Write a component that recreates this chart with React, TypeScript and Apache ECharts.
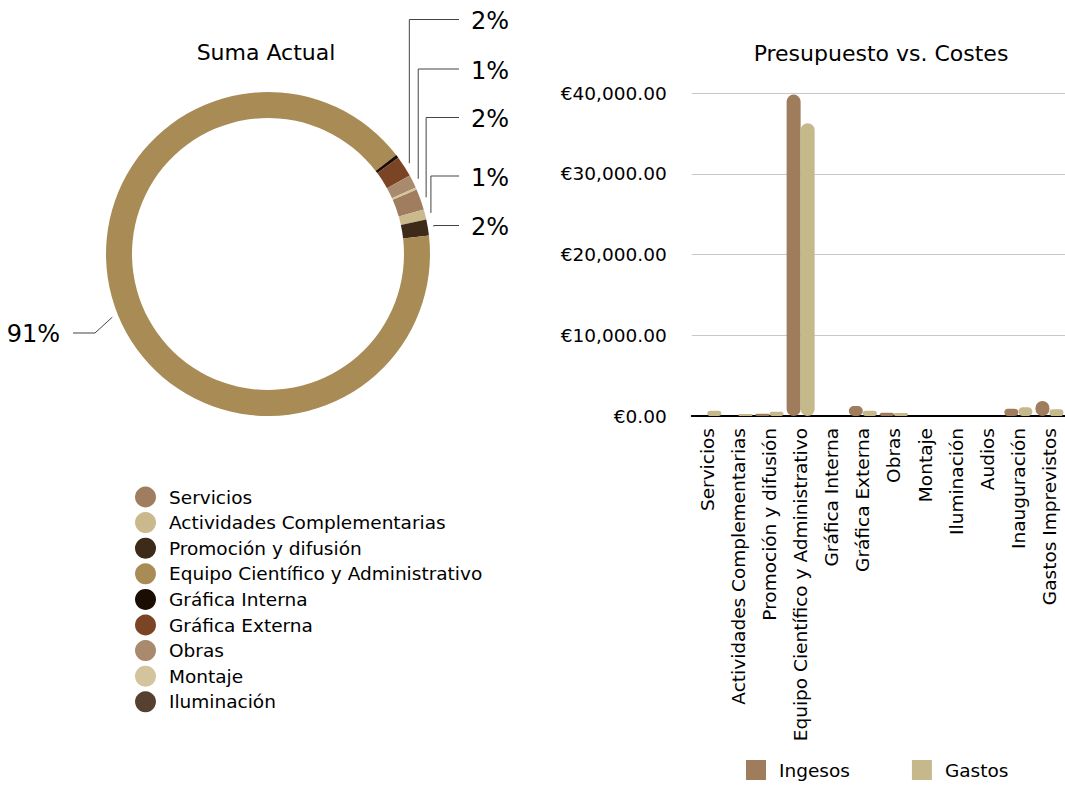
import React, { useEffect, useRef } from 'react';
import * as echarts from 'echarts';

// ---------- Data ----------
const pieCategories = [
  'Servicios',
  'Actividades Complementarias',
  'Promoción y difusión',
  'Equipo Científico y Administrativo',
  'Gráfica Interna',
  'Gráfica Externa',
  'Obras',
  'Montaje',
  'Iluminación',
];
const pieValues = [830, 400, 640, 36200, 130, 830, 520, 80, 0];
const pieColors = [
  '#a07d5f',
  '#c9b98d',
  '#3e2a19',
  '#a98b55',
  '#1c0d03',
  '#7b4525',
  '#a98a6d',
  '#d3c49d',
  '#56402f',
];

const barCategories = [
  'Servicios',
  'Actividades Complementarias',
  'Promoción y difusión',
  'Equipo Científico y Administrativo',
  'Gráfica Interna',
  'Gráfica Externa',
  'Obras',
  'Montaje',
  'Iluminación',
  'Audios',
  'Inauguración',
  'Gastos Imprevistos',
];
const ingesosValues = [0, 0, 290, 39800, 0, 1240, 410, 0, 0, 0, 900, 1860];
const gastosValues = [660, 250, 530, 36250, 0, 660, 370, 0, 0, 0, 1080, 830];
const barSeriesNames = ['Ingesos', 'Gastos'];
const barColors = ['#9f7c5c', '#c5b88b'];

const FONT = 'DejaVu Sans, Verdana, sans-serif';

export default function App() {
  const ref = useRef<HTMLDivElement>(null);

  useEffect(() => {
    if (!ref.current) return;
    const chart = echarts.init(ref.current, undefined, { renderer: 'svg' });

    const PIE_CX = 268;
    const PIE_CY = 254;
    // label placement (layout only)
    const rightLabelY: Record<string, number> = {
      'Gráfica Externa': 19.5,
      Obras: 69,
      Servicios: 117.5,
      'Actividades Complementarias': 176,
      'Promoción y difusión': 225.5,
    };

    const option: any = {
      animation: false,
      textStyle: { fontFamily: FONT },
      title: [
        {
          text: 'Suma Actual',
          left: 266,
          top: 52,
          padding: 0,
          textAlign: 'center',
          textVerticalAlign: 'middle',
          textStyle: { fontSize: 22, fontWeight: 'normal', color: '#000', fontFamily: FONT },
        },
        {
          text: 'Presupuesto vs. Costes',
          left: 881,
          top: 53,
          padding: 0,
          textAlign: 'center',
          textVerticalAlign: 'middle',
          textStyle: { fontSize: 22, fontWeight: 'normal', color: '#000', fontFamily: FONT },
        },
      ],
      legend: [
        {
          data: pieCategories,
          orient: 'vertical',
          left: 135,
          top: 486.5,
          padding: 0,
          icon: 'circle',
          itemWidth: 21,
          itemHeight: 21,
          itemGap: 4.6,
          selectedMode: false,
          textStyle: { fontSize: 18.5, color: '#000', fontFamily: FONT, padding: [0, 0, 0, 8] },
        },
        {
          data: barSeriesNames,
          orient: 'horizontal',
          left: 746,
          top: 760,
          padding: 0,
          icon: 'rect',
          itemWidth: 20,
          itemHeight: 20,
          itemGap: 62,
          selectedMode: false,
          textStyle: { fontSize: 18.5, color: '#000', fontFamily: FONT, padding: [0, 0, 0, 8] },
        },
      ],
      grid: {
        left: 691.75,
        top: 93,
        width: 382,
        height: 323,
        containLabel: false,
      },
      xAxis: {
        type: 'category',
        data: barCategories,
        axisLine: { show: true, lineStyle: { color: '#000', width: 2 } },
        axisTick: { show: false },
        axisLabel: {
          interval: 0,
          rotate: 90,
          margin: 12,
          fontSize: 18.5,
          color: '#000',
          fontFamily: FONT,
        },
      },
      yAxis: {
        type: 'value',
        min: 0,
        max: 40000,
        interval: 10000,
        axisLine: { show: false },
        axisTick: { show: false },
        splitLine: { show: true, lineStyle: { color: '#c8c8c8', width: 1 } },
        axisLabel: {
          margin: 25,
          fontSize: 18.5,
          color: '#000',
          fontFamily: FONT,
          formatter: (v: number) =>
            '€' + v.toLocaleString('en-US', { minimumFractionDigits: 2, maximumFractionDigits: 2 }),
        },
      },
      series: [
        {
          type: 'pie',
          name: 'Suma Actual',
          center: [PIE_CX, PIE_CY],
          radius: [136, 162],
          startAngle: 23.5,
          clockwise: true,
          avoidLabelOverlap: false,
          minShowLabelAngle: 2,
          emphasis: { disabled: true },
          label: {
            show: true,
            position: 'outside',
            fontSize: 24,
            color: '#000',
            fontFamily: FONT,
            formatter: (p: any) => Math.round(p.percent) + '%',
          },
          labelLine: {
            show: true,
            length: 10,
            length2: 20,
            lineStyle: { color: '#444', width: 1 },
          },
          labelLayout: (params: any) => {
            const pts = params.labelLinePoints;
            if (!pts) return {};
            const name = pieCategories[params.dataIndex];
            const px = pts[0][0];
            const py = pts[0][1];
            const dx = px - PIE_CX;
            const dy = py - PIE_CY;
            const r = Math.hypot(dx, dy) || 1;
            const sx = px + (dx / r) * 6;
            const sy = py + (dy / r) * 6;
            const ry = rightLabelY[name];
            if (ry != null) {
              return {
                x: 471,
                y: ry + 1.5,
                align: 'left',
                verticalAlign: 'middle',
                labelLinePoints: [
                  [sx, sy],
                  [sx, ry],
                  [459, ry],
                ],
              };
            }
            if (dx < 0) {
              return {
                x: 60,
                y: 334,
                align: 'right',
                verticalAlign: 'middle',
                labelLinePoints: [
                  [sx, sy],
                  [95, 333],
                  [73, 333],
                ],
              };
            }
            return {};
          },
          data: pieCategories.map((name, i) => ({
            name,
            value: pieValues[i],
            itemStyle: { color: pieColors[i] },
          })),
        },
        ...barSeriesNames.map((name, si) => ({
          type: 'bar',
          name,
          data: si === 0 ? ingesosValues : gastosValues,
          barWidth: 14,
          barGap: '0%',
          itemStyle: { color: barColors[si], borderRadius: 7 },
          emphasis: { disabled: true },
        })),
      ],
    };

    chart.setOption(option);
    return () => {
      chart.dispose();
    };
  }, []);

  return (
    <div
      ref={ref}
      style={{ position: 'fixed', left: 0, top: 0, width: 1065, height: 786, background: '#fff' }}
    />
  );
}
